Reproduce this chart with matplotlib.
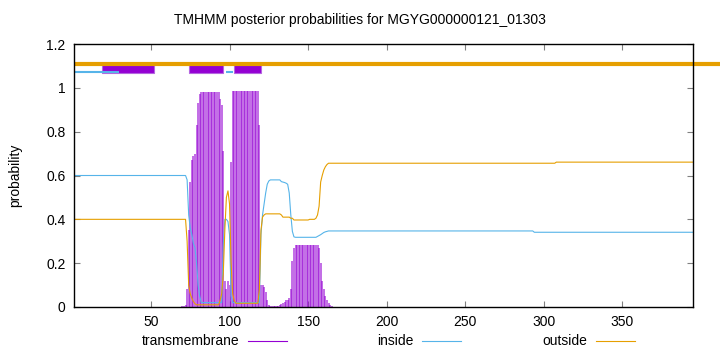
import numpy as np
import matplotlib
matplotlib.use("Agg")
import matplotlib.pyplot as plt
from matplotlib.lines import Line2D
from matplotlib.patches import Rectangle

plt.rcParams['font.family'] = ['Liberation Sans', 'DejaVu Sans']
plt.rcParams['font.size'] = 10

# ---- data (residue 1..395) ----
seq_len = 395

# residues 70..165, one value per residue
tm_mid = [0.003, 0.003, 0.01, 0.08, 0.35, 0.57, 0.67, 0.69, 0.70, 0.83, 0.93, 0.97,
          0.983, 0.983, 0.983, 0.983, 0.983, 0.983, 0.983, 0.983, 0.983, 0.983, 0.983, 0.983,
          0.95, 0.92, 0.71, 0.12, 0.08, 0.12, 0.10, 0.66,
          0.985, 0.985, 0.985, 0.985, 0.985, 0.985, 0.985, 0.985, 0.985, 0.985, 0.985, 0.985,
          0.985, 0.985, 0.985, 0.985, 0.985,
          0.83, 0.10, 0.10, 0.09, 0.07, 0.03, 0.01,
          0.004, 0.004, 0.004, 0.004, 0.004,
          0.005, 0.01, 0.015, 0.02, 0.025, 0.03, 0.03, 0.04, 0.08, 0.21, 0.27,
          0.285, 0.285, 0.285, 0.285, 0.285, 0.285, 0.285, 0.285, 0.285, 0.285, 0.285, 0.285,
          0.285, 0.285, 0.285,
          0.27, 0.20, 0.12, 0.08, 0.05, 0.03, 0.02, 0.01, 0.003]

inside_mid = [0.60, 0.60, 0.60, 0.58, 0.42, 0.36, 0.33, 0.29, 0.27, 0.20, 0.10, 0.05,
              0.02, 0.02, 0.02, 0.02, 0.02, 0.02, 0.02, 0.02, 0.02, 0.02, 0.02, 0.02, 0.02, 0.02,
              0.28, 0.40, 0.40, 0.39, 0.33, 0.05,
              0.02, 0.02, 0.02, 0.02, 0.02, 0.02, 0.02, 0.02, 0.02, 0.02, 0.02, 0.02, 0.02,
              0.02, 0.02, 0.02, 0.02, 0.02,
              0.33, 0.42, 0.47, 0.52, 0.56, 0.575,
              0.58, 0.58, 0.58, 0.58, 0.58, 0.58, 0.58,
              0.572, 0.57, 0.568, 0.565, 0.56, 0.52, 0.42, 0.345, 0.32,
              0.318, 0.318, 0.318, 0.318, 0.318, 0.318, 0.318, 0.318, 0.318, 0.318, 0.318,
              0.318, 0.318, 0.318,
              0.322, 0.326, 0.33, 0.335, 0.34, 0.343, 0.345,
              0.347, 0.347, 0.347]

outside_mid = [0.40, 0.40, 0.40, 0.30, 0.10, 0.06, 0.04, 0.025, 0.015,
               0.01, 0.01, 0.01, 0.01, 0.01, 0.01, 0.01, 0.01, 0.01, 0.01, 0.01, 0.01, 0.01,
               0.01, 0.01,
               0.03, 0.06, 0.15, 0.35, 0.50, 0.53, 0.47, 0.20, 0.06, 0.03,
               0.017, 0.017, 0.017, 0.017, 0.017, 0.017, 0.017, 0.017, 0.017, 0.017, 0.017,
               0.017, 0.017, 0.017, 0.017,
               0.08, 0.35, 0.41, 0.42,
               0.425, 0.425, 0.425, 0.425, 0.425, 0.425, 0.425, 0.425, 0.425, 0.425,
               0.42, 0.41, 0.41, 0.41, 0.41, 0.41, 0.405, 0.405,
               0.397, 0.397, 0.397, 0.397, 0.397, 0.397, 0.397, 0.397, 0.397, 0.397,
               0.40, 0.40, 0.40, 0.40,
               0.405, 0.42, 0.46, 0.57, 0.60, 0.625, 0.64, 0.65,
               0.656, 0.656, 0.656]

# flat stretches: (number of residues, value)
tm_head = [(26, 0.002), (43, 0.0)]
tm_tail = [(120, 0.0), (32, 0.002), (78, 0.0)]
inside_head = [(69, 0.60)]
inside_tail = [(128, 0.347), (102, 0.341)]
outside_head = [(69, 0.40)]
outside_tail = [(142, 0.656), (88, 0.661)]

# predicted topology on top of the plot
tm_segments = [(18.7, 52.0), (74.5, 96.0), (103.0, 120.0)]
inside_segments = [(1.0, 29.5), (97.5, 102.5)]
outside_segments = [(1.0, 430.0)]


def build(head, mid, tail):
    parts = [np.full(n, v) for n, v in head] + [np.array(mid)] + [np.full(n, v) for n, v in tail]
    return np.concatenate(parts)


residues = np.arange(1, seq_len + 1)
tm = build(tm_head, tm_mid, tm_tail)
inside = build(inside_head, inside_mid, inside_tail)
outside = build(outside_head, outside_mid, outside_tail)

purple = '#9400d3'
blue = '#56b4e9'
orange = '#e69f00'

fig = plt.figure(figsize=(7.2, 3.52), dpi=100)
ax = fig.add_axes([74 / 720, 1 - 307 / 352, (693 - 74) / 720, (307 - 44) / 352])

ax.vlines(residues, 0, tm, colors=purple, lw=1.15, alpha=0.7)
ax.plot(residues, inside, color=blue, lw=0.8)
ax.plot(residues, outside, color=orange, lw=0.8)

for x0, x1 in outside_segments:
    ax.plot([x0, x1], [1.11, 1.11], color=orange, lw=3, clip_on=False, solid_capstyle='butt')
for x0, x1 in tm_segments:
    ax.add_patch(Rectangle((x0, 1.068), x1 - x0, 0.044, facecolor=purple,
                           edgecolor='#b566e0', lw=0.8))
for x0, x1 in inside_segments:
    ax.plot([x0, x1], [1.073, 1.073], color=blue, lw=1.5, solid_capstyle='butt')

ax.set_xlim(1, seq_len)
ax.set_ylim(0, 1.2)
ax.set_xticks([50, 100, 150, 200, 250, 300, 350])
ax.set_yticks([0, 0.2, 0.4, 0.6, 0.8, 1.0, 1.2])
ax.set_yticklabels(['0', '0.2', '0.4', '0.6', '0.8', '1', '1.2'])
ax.tick_params(direction='in', length=4, top=True, right=True, color='#808080',
               labelsize=10, pad=6)
for s in ax.spines.values():
    s.set_linewidth(1.0)

fig.text(0.5, 1 - 20 / 352, 'TMHMM posterior probabilities for MGYG000000121_01303',
         ha='center', va='center', fontsize=10)
fig.text(15 / 720, 1 - 175 / 352, 'probability', rotation=90, ha='center', va='center',
         fontsize=10)

# legend in gnuplot style: label then line sample
legend_items = [('transmembrane', purple, 239, 248, 287),
                ('inside', blue, 413, 422, 461),
                ('outside', orange, 587, 596, 635)]
ly = 1 - 341 / 352
for label, col, tx, l0, l1 in legend_items:
    fig.text(tx / 720, ly, label, ha='right', va='center', fontsize=10)
    fig.add_artist(Line2D([l0 / 720, l1 / 720], [ly, ly], color=col, lw=0.8))

fig.savefig('out.png', dpi=100)
